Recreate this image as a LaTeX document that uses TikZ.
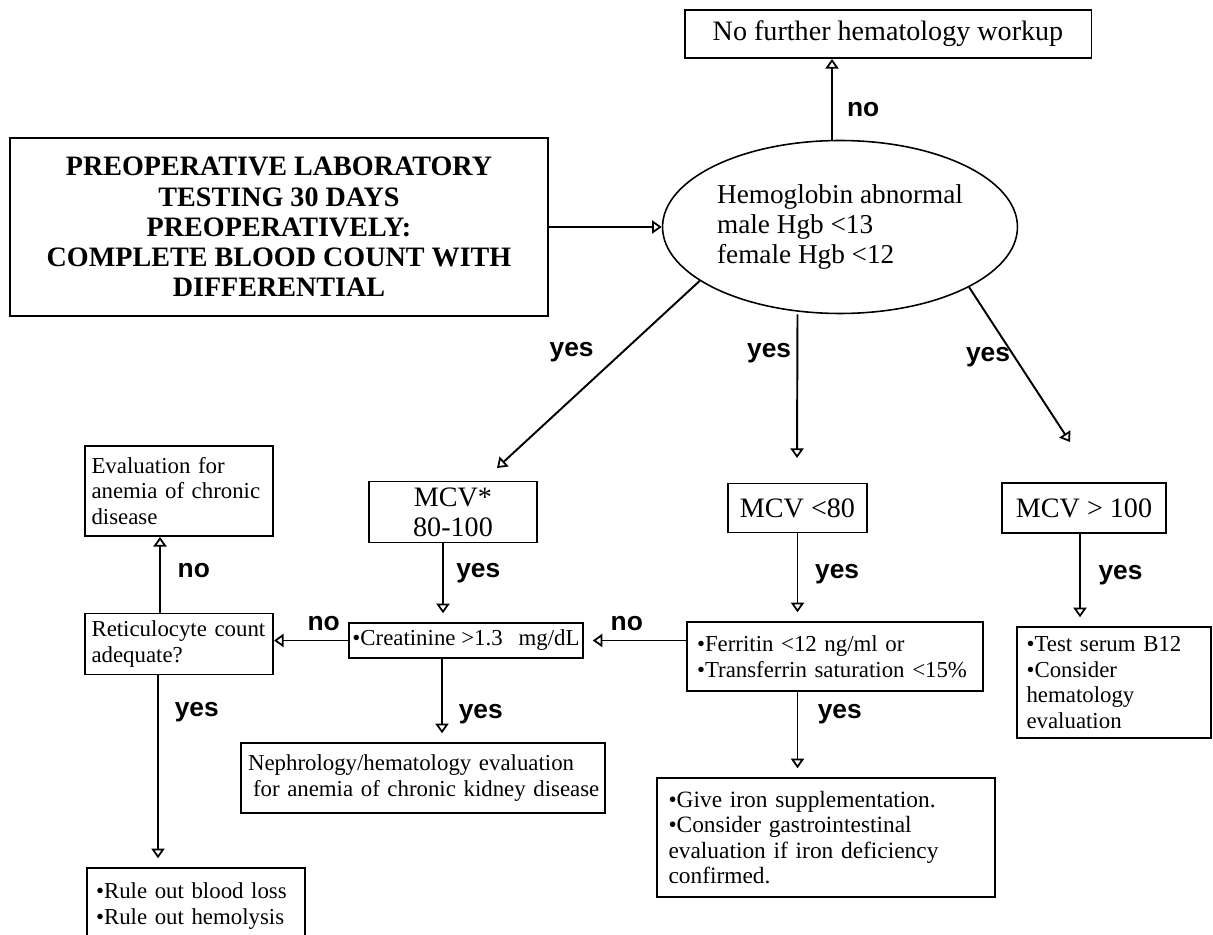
\documentclass[tikz,border=0pt]{standalone}
\usepackage{fontspec}
\setmainfont{Liberation Serif}
\setsansfont{Liberation Sans}
\usetikzlibrary{arrows.meta}
\usetikzlibrary{calc,positioning}
\usetikzlibrary{shapes.geometric}

\begin{document}
\begin{tikzpicture}[x=0.02cm,y=-0.02cm,
  box/.style={draw,line width=1.1pt,inner sep=0pt,font=\fontsize{13}{14.5}\selectfont},
  bigbox/.style={box,font=\fontsize{16}{17}\selectfont},
  leftbox/.style={box,align=left,inner xsep=0.2cm},
  lbl/.style={inner sep=0pt,font=\fontsize{15}{17}\selectfont\sffamily\bfseries},
  arr/.style={line width=1.1pt,-{Triangle[open,width=7.5pt,length=5.5pt,line width=1pt]}},
  gap/.style={shorten >=5pt}]
\clip (0,0) rectangle (1213,935);

\node[bigbox,minimum width=8.14cm,minimum height=0.96cm] (nofurther) at (888,34) {No further hematology workup};
\node[bigbox,font=\fontsize{16}{17.2}\selectfont\bfseries,align=center,minimum width=10.76cm,minimum height=3.56cm] (preop) at (279,227) {PREOPERATIVE LABORATORY\\TESTING 30 DAYS\\PREOPERATIVELY:\\COMPLETE BLOOD COUNT WITH\\DIFFERENTIAL};
\node[draw,ellipse,line width=0.9pt,inner sep=0pt,minimum width=7.1cm,minimum height=3.46cm,align=left,font=\fontsize{15.5}{17}\selectfont] (hgb) at (840,227) {Hemoglobin abnormal\\male Hgb <13\\female Hgb <12};

\node[bigbox,align=center,minimum width=3.36cm,minimum height=1.22cm] (mcvn) at (453,512) {MCV*\\80-100};
\node[bigbox,minimum width=2.78cm,minimum height=0.98cm] (mcvlow) at (797.5,508) {MCV <80};
\node[bigbox,minimum width=3.28cm,minimum height=1.0cm] (mcvhigh) at (1084,508) {MCV > 100};

\node[box,minimum width=4.68cm,minimum height=0.7cm] (creat) at (466,640.5) {\textbullet Creatinine >1.3\hspace{0.45em} mg/dL};
\node[leftbox,text width=5.52cm,minimum height=1.38cm,font=\fontsize{13}{15}\selectfont] (ferr) at (835,656.5) {\textbullet Ferritin <12 ng/ml or\\\textbullet Transferrin saturation <15\%};
\node[leftbox,text width=3.5cm,inner xsep=0.13cm,minimum height=1.22cm] (retic) at (179,644) {Reticulocyte count\\adequate?};
\node[leftbox,text width=3.5cm,inner xsep=0.13cm,minimum height=1.8cm] (evalacd) at (179,491) {Evaluation for\\anemia of chronic\\disease};
\node[leftbox,text width=7.12cm,inner xsep=0.08cm,minimum height=1.4cm] (neph) at (423,778) {\mbox{\hspace*{0.06cm}Nephrology/hematology evaluation}\\\mbox{\hspace*{0.16cm}for anemia of chronic kidney disease}};
\node[leftbox,text width=6.3cm,inner xsep=0.23cm,minimum height=2.38cm,font=\fontsize{13.3}{14.5}\selectfont] (iron) at (826,837.5) {\textbullet Give iron supplementation.\\\textbullet Consider gastrointestinal\\evaluation if iron deficiency\\confirmed.};
\node[leftbox,text width=3.5cm,inner xsep=0.19cm,minimum height=2.22cm] (bvit) at (1114,682.5) {\textbullet Test serum B12\\\textbullet Consider\\hematology\\evaluation};
\node[leftbox,anchor=north,text width=4.0cm,inner xsep=0.18cm,inner ysep=0.3cm] (ruleout) at (196,867) {\textbullet Rule out blood loss\\\textbullet Rule out hemolysis};

\coordinate (tipA) at (497,468);
\coordinate (tipB) at (797,458);
\coordinate (tipC) at (1070,442);

\draw[arr] (preop) -- (hgb);
\draw[arr] ([xshift=-0.16cm]hgb.north) -- ([xshift=-0.16cm]hgb.north |- nofurther.south) node[lbl,right=8pt,pos=0.37] {no};
\draw[arr] (hgb.201.7) -- (tipA) node[lbl,left=16pt,pos=0.38] {yes};
\draw[arr] (mcvlow.north |- hgb.south) -- (tipB) node[lbl,left=3pt,pos=0.27] {yes};
\draw[arr] (hgb.-25.2) -- (tipC) node[lbl,left=2pt,pos=0.45] {yes};

\draw[arr,gap] ([xshift=-0.2cm]mcvn.south) -- ([xshift=-0.2cm]mcvn.south |- creat.north) node[lbl,right=7pt,pos=0.38] {yes};
\draw[arr,gap] (mcvlow.south) -- (mcvlow.south |- ferr.north) node[lbl,right=9.5pt,pos=0.47] {yes};
\draw[arr,gap] ([xshift=-0.08cm]mcvhigh.south) -- ([xshift=-0.08cm]mcvhigh.south |- bvit.north) node[lbl,right=10pt,pos=0.45] {yes};

\draw[arr,gap] (ferr.west |- creat.east) -- (creat.east) node[lbl,above=5pt,pos=0.58] {no};
\draw[arr] (creat.west) -- (creat.west -| retic.east) node[lbl,above=5pt,pos=0.33] {no};
\draw[arr,gap] ([xshift=-0.48cm]creat.south) -- ([xshift=-0.48cm]creat.south |- neph.north) node[lbl,right=9pt,pos=0.67] {yes};
\draw[arr,gap] (ferr.south -| mcvlow.south) -- (mcvlow.south |- iron.north) node[lbl,right=11pt,pos=0.26] {yes};
\draw[arr] ([xshift=-0.38cm]retic.north) -- ([xshift=-0.38cm]retic.north |- evalacd.south) node[lbl,right=9.5pt,pos=0.56] {no};
\draw[arr,gap] ([xshift=-0.42cm]retic.south) -- ([xshift=-0.42cm]retic.south |- ruleout.north) node[lbl,right=9pt,pos=0.19] {yes};

\end{tikzpicture}
\end{document}
